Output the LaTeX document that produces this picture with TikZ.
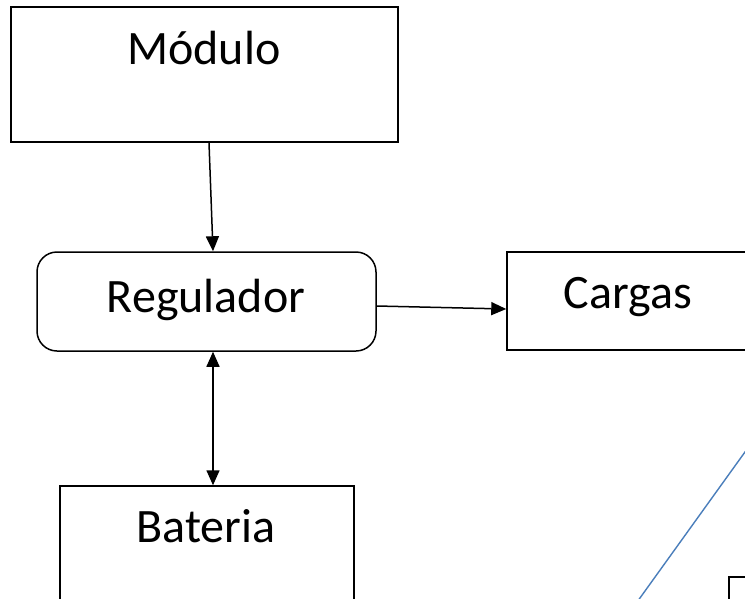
\documentclass[tikz,border=0pt]{standalone}
\usepackage{fontspec}
\setmainfont{Carlito}
\usetikzlibrary{arrows.meta}
\definecolor{officeblue}{RGB}{74,126,187}
\tikzset{
  boxnode/.style={draw=black, line width=1.5pt, fill=none, inner sep=0pt},
  txt/.style={font=\fontsize{48pt}{58pt}\selectfont, inner sep=0pt, anchor=base},
  conn/.style={draw=black, line width=1.5pt},
  tip/.style={-{Triangle[length=15pt,width=13pt]}},
  dtip/.style={{Triangle[length=15pt,width=13pt]}-{Triangle[length=15pt,width=13pt]}}
}
\begin{document}
\begin{tikzpicture}[x=1pt,y=-1pt]
\useasboundingbox (0,0) rectangle (745,598);
\clip (0,0) rectangle (745,598);
\fill[white] (0,0) rectangle (745,598);
% boxes
\node[boxnode, minimum width=387pt, minimum height=135pt] (mod) at (204.5,74.5) {};
\node[boxnode, rounded corners=20pt, minimum width=339pt, minimum height=99pt] (reg) at (206.5,301.5) {};
\node[boxnode, minimum width=280pt, minimum height=98pt] (car) at (647,301) {};
\node[boxnode, minimum width=294pt, minimum height=150pt] (bat) at (207,561) {};
\node[boxnode, minimum width=80pt, minimum height=80pt] (sq) at (769,617) {};
% texts
\node[txt] (tmod) at (204,64) {Módulo};
\node[txt] (treg) at (206,312) {Regulador};
\node[txt] (tcar) at (628,308) {Cargas};
\node[txt] (tbat) at (206,542) {Bateria};
% connectors
\draw[conn, tip] ([xshift=4.5pt]mod.south) -- ([xshift=6.5pt]reg.north);
\draw[conn, tip] ([yshift=-4.5pt]reg.east) -- ([yshift=-8pt]car.west);
\draw[conn, dtip] ([xshift=6.5pt]reg.south) -- ([xshift=6pt]bat.north);
% blue line
\coordinate (b1) at (626.3,617);
\coordinate (b2) at (760,431.1);
\draw[officeblue, line width=1.4pt] (b1) -- (b2);
\end{tikzpicture}
\end{document}
